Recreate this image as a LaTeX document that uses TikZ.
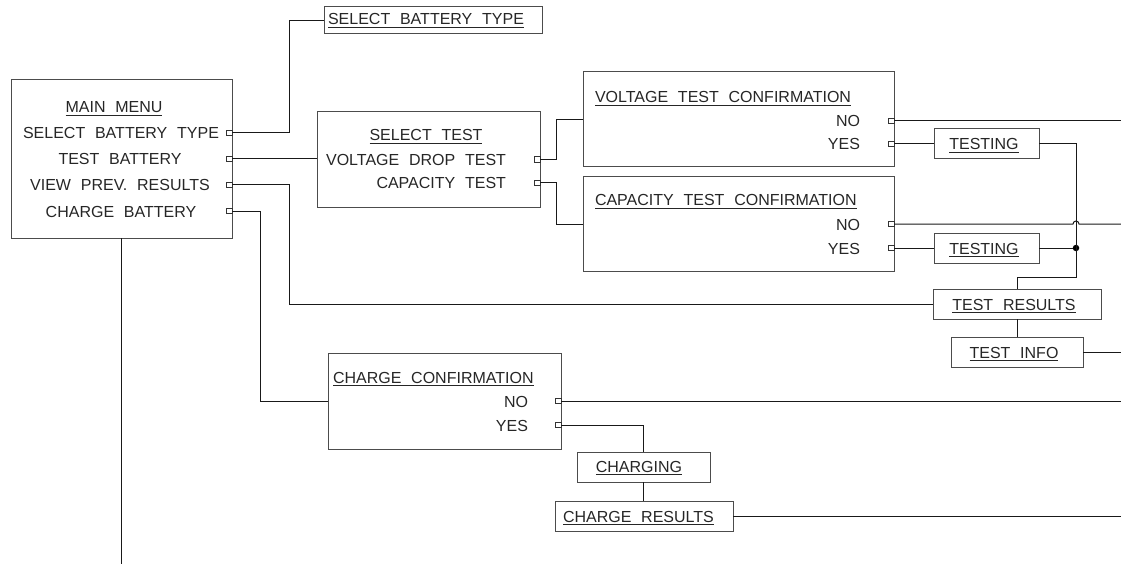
\documentclass[tikz,border=0pt]{standalone}
\usepackage{fontspec}
\setmainfont{Liberation Sans}[WordSpace=2.2]
\usetikzlibrary{calc}
\newcommand\ulx[1]{\vtop{\hbox{#1}\kern2.2pt\hrule height 0.9pt}}
\begin{document}
\begin{tikzpicture}[x=1pt,y=-1pt,
  box/.style={draw=black!70, line width=1pt, anchor=north west, inner sep=0pt, outer sep=0pt},
  port/.style={draw=black!80, line width=0.8pt, fill=white, minimum width=6pt, minimum height=5.5pt, inner sep=0pt, outer sep=0pt},
  txt/.style={font=\fontsize{16}{19}\selectfont, inner sep=0pt, outer sep=0pt, text=black!85},
  tc/.style={txt, anchor=base},
  tl/.style={txt, anchor=base west},
  tr/.style={txt, anchor=base east},
  wire/.style={line width=1pt, draw=black!90},
  jdot/.style={circle, fill=black, inner sep=0pt, minimum size=6.5pt}]
\useasboundingbox (0,0) rectangle (1121,564);
% helper coordinates
\coordinate (R) at (1121,0);
\coordinate (X1) at (289,0);
\coordinate (X2) at (260,0);
\coordinate (X3) at (556,0);
\coordinate (V) at (1076,277);
\coordinate (B) at (0,564);
% boxes
\node[box, minimum width=218pt, minimum height=27pt] (sbt) at (324,7) {};
\node[box, minimum width=221pt, minimum height=158pt] (main) at (11,80) {};
\node[box, minimum width=223pt, minimum height=95pt] (seltest) at (317,112) {};
\node[box, minimum width=311pt, minimum height=95pt] (vconf) at (583,72) {};
\node[box, minimum width=311pt, minimum height=94pt] (cconf) at (583,177) {};
\node[box, minimum width=105pt, minimum height=30pt] (test1) at (934,129) {};
\node[box, minimum width=105pt, minimum height=30pt] (test2) at (934,233) {};
\node[box, minimum width=168pt, minimum height=30pt] (tres) at (933,289) {};
\node[box, minimum width=132pt, minimum height=30pt] (tinfo) at (951,337) {};
\node[box, minimum width=233pt, minimum height=96pt] (chconf) at (328,353) {};
\node[box, minimum width=133pt, minimum height=30pt] (charging) at (577,452) {};
\node[box, minimum width=178pt, minimum height=30pt] (chres) at (555,501) {};
% ports
\node[port] (m1) at (229,133) {};
\node[port] (m2) at (229,159) {};
\node[port] (m3) at (229,185) {};
\node[port] (m4) at (229,211) {};
\node[port] (s1) at (537,159.5) {};
\node[port] (s2) at (537,183) {};
\node[port] (vn) at (891,121) {};
\node[port] (vy) at (891,144) {};
\node[port] (cn) at (891,224) {};
\node[port] (cy) at (891,248) {};
\node[port] (hn) at (558,401) {};
\node[port] (hy) at (558,425) {};
\node[jdot] (jn) at (1076,248) {};
% connectors
\draw[wire] (m1.east) -- (m1.east -| X1) |- (sbt.west);
\draw[wire] (m2.east) -- (m2.east -| seltest.west);
\draw[wire] (m3.east) -- (m3.east -| X1) |- (tres.west);
\draw[wire] (m4.east) -- (m4.east -| X2) |- (chconf.west);
\draw[wire] (s1.east) -- (s1.east -| X3) |- (vconf.west);
\draw[wire] (s2.east) -- (s2.east -| X3) |- (cconf.west);
\draw[wire] (vn.east) -- (vn.east -| R);
\draw[wire] (vy.east) -- (vy.east -| test1.west);
\draw[wire] (cy.east) -- (cy.east -| test2.west);
\draw[wire] (cn.east) -- ($(cn.east -| V)+(-3,0)$) arc[start angle=180, end angle=0, radius=3pt] -- (cn.east -| R);
\draw[wire] (test1.east) -| (V) -| (tres.north);
\draw[wire] (test2.east) -- (jn);
\draw[wire] (tres.south) -- (tinfo.north);
\draw[wire] (tinfo.east) -- (tinfo.east -| R);
\draw[wire] (hn.east) -- (hn.east -| R);
\draw[wire] (hy.east) -| (charging.north);
\draw[wire] (charging.south) -- (charging.south |- chres.north);
\draw[wire] (chres.east) -- (chres.east -| R);
\draw[wire] (main.south) -- (main.south |- B);
% texts
\node[tc] (sbtT) at (426,25) {\ulx{SELECT BATTERY TYPE}};
\node[tc] (mmT) at (114,113) {\ulx{MAIN MENU}};
\node[tc] (mm1T) at (121,139) {SELECT BATTERY TYPE};
\node[tc] (mm2T) at (120,165) {TEST BATTERY};
\node[tc] (mm3T) at (120,191) {VIEW PREV. RESULTS};
\node[tc] (mm4T) at (121,217) {CHARGE BATTERY};
\node[tc] (stT) at (426,141) {\ulx{SELECT TEST}};
\node[tr] (st1T) at (506,165.5) {VOLTAGE DROP TEST};
\node[tr] (st2T) at (506,189) {CAPACITY TEST};
\node[tl] (vcT) at (595,103) {\ulx{VOLTAGE TEST CONFIRMATION}};
\node[tr] (vnT) at (860,127) {NO};
\node[tr] (vyT) at (860,150) {YES};
\node[tl] (ccT) at (595,206) {\ulx{CAPACITY TEST CONFIRMATION}};
\node[tr] (cnT) at (860,230) {NO};
\node[tr] (cyT) at (860,254) {YES};
\node[tc] (t1T) at (984,150) {\ulx{TESTING}};
\node[tc] (t2T) at (984,254) {\ulx{TESTING}};
\node[tc] (trT) at (1014,310) {\ulx{TEST RESULTS}};
\node[tc] (tiT) at (1014,358) {\ulx{TEST INFO}};
\node[tl] (hcT) at (333,383) {\ulx{CHARGE CONFIRMATION}};
\node[tr] (hnT) at (528,407) {NO};
\node[tr] (hyT) at (528,431) {YES};
\node[tc] (chgT) at (639,472) {\ulx{CHARGING}};
\node[tl] (chrT) at (563,522) {\ulx{CHARGE RESULTS}};
\end{tikzpicture}
\end{document}
